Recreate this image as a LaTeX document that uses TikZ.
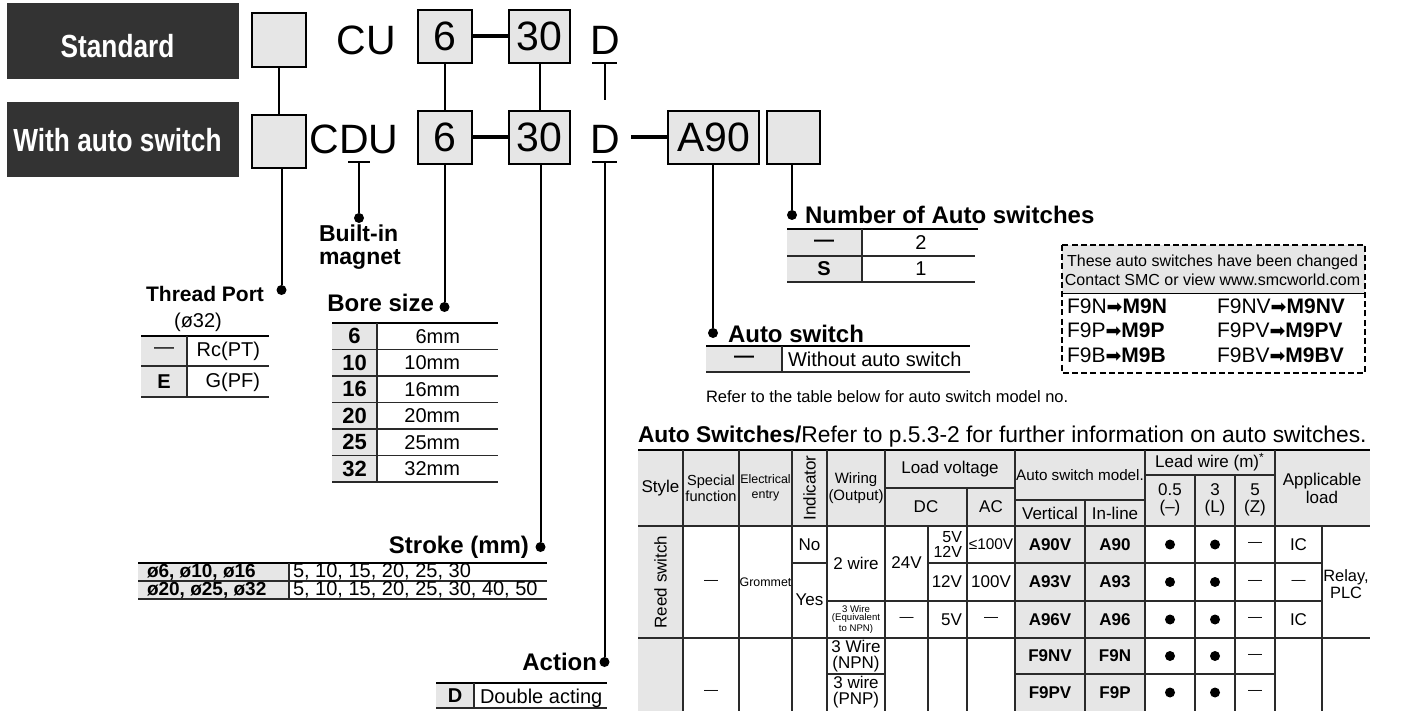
\documentclass[tikz,border=0pt]{standalone}
\usepackage{fontspec}
\setmainfont{Liberation Sans}
\newfontfamily\condf[FakeStretch=0.82]{Liberation Sans}
\newfontfamily\symf{DejaVu Sans}
\definecolor{cellgray}{HTML}{E6E6E6}
\definecolor{darkbox}{HTML}{333333}
\definecolor{rulec}{HTML}{2A2A2A}
\newcommand{\fsz}[2]{\fontsize{#1}{#2}\selectfont}
\begin{document}
\begin{tikzpicture}[x=0.5pt,y=-0.5pt,
 every node/.style={inner sep=0pt,outer sep=0pt},
 gbox/.style={draw=black,line width=1pt,fill=cellgray},
 conn/.style={line width=1pt,draw=black},
 hbar/.style={line width=2pt,draw=black},
 jdot/.style={circle,fill=black,minimum size=5pt},
 ttl/.style={font=\bfseries\fsz{12}{13}},
 big/.style={font=\fsz{20.5}{21}},
 cell/.style={font=\fsz{10}{11}},
 bcell/.style={font=\bfseries\fsz{10}{11}},
 rthick/.style={line width=1.1pt,draw=black},
 rthin/.style={line width=0.55pt,draw=rulec},
 hd/.style={font=\fsz{8.5}{9},align=center},
 bd/.style={font=\fsz{8.5}{9}},
 bdb/.style={font=\bfseries\fsz{8.5}{9}},
 bul/.style={circle,fill=black,minimum size=5pt},
 dsh/.style={font=\fsz{7}{8}},
 chg/.style={font=\fsz{10.5}{11},anchor=base west},
]
\useasboundingbox (0,0) rectangle (1407,711);

% ---------- label boxes
\node[fill=darkbox,minimum width=116pt,minimum height=38pt,anchor=north west] (stdbox) at (7,3) {};
\node[fill=darkbox,minimum width=116pt,minimum height=37.5pt,anchor=north west] (autobox) at (7,102) {};
\node[font=\condf\bfseries\fsz{16}{16},text=white,anchor=base] (stdtxt) at (117.5,58) {Standard};
\node[font=\condf\bfseries\fsz{16}{16},text=white,anchor=base] (autotxt) at (117.5,152) {With auto switch};

% ---------- model code row
\node[gbox,minimum width=27pt,minimum height=27pt,anchor=north west] (b1) at (252,13) {};
\node[gbox,minimum width=27pt,minimum height=26.5pt,anchor=north west] (b2) at (252,115) {};
\node[big,anchor=base] (cu) at (366.5,55) {CU};
\node[big,anchor=base] (cdu) at (354,154) {CDU};
\node[gbox,big,minimum width=27pt,minimum height=26.5pt,anchor=north west,text depth=-1pt] (s6a) at (418,10) {6};
\node[gbox,big,minimum width=27pt,minimum height=26.5pt,anchor=north west,text depth=-1pt] (s6b) at (418,111) {6};
\node[gbox,big,minimum width=30.5pt,minimum height=26.5pt,anchor=north west,text depth=-1pt] (s30a) at (509,10) {30};
\node[gbox,big,minimum width=30.5pt,minimum height=26.5pt,anchor=north west,text depth=-1pt] (s30b) at (509,111) {30};
\node[big,anchor=base] (da) at (605,55) {D};
\node[big,anchor=base] (db) at (605,154) {D};
\node[gbox,big,minimum width=45.5pt,minimum height=26.5pt,anchor=north west,text depth=-1pt] (a90) at (668,111) {A90};
\node[gbox,minimum width=26.5pt,minimum height=26.5pt,anchor=north west] (nb) at (767,111) {};

% T marks under D letters
\coordinate (dal) at (592,63); \coordinate (dar) at (617,63);
\coordinate (dau) at (604.5,63); \coordinate (dae) at (604.5,100);
\coordinate (dbl) at (592,162); \coordinate (dbr) at (617,162);
\coordinate (dbu) at (604.5,162);
\coordinate (cdl) at (348,162); \coordinate (cdr) at (370,162);
\coordinate (cdd) at (359,162);
\draw[conn] (dal) -- (dar);
\draw[conn] (dau) -- (dae);
\draw[conn] (dbl) -- (dbr);
\draw[conn] (cdl) -- (cdr);

% connectors
\draw[conn] (b1.south) -- (b2.north);
\draw[conn] (s6a.south) -- (s6b.north);
\draw[conn] (s30a.south) -- (s30b.north);
\draw[hbar] (s6a.east) -- (s30a.west);
\draw[hbar] (s6b.east) -- (s30b.west);
\coordinate (dbar) at (631,137.5);
\draw[hbar] (dbar) -- (dbar -| a90.west);

% dots
\node[jdot] (tpdot) at (281.5,290) {};
\node[jdot] (magdot) at (359,218) {};
\node[jdot] (bsdot) at (444.5,307) {};
\node[jdot] (stdot) at (540.5,547) {};
\node[jdot] (acdot) at (604.5,662) {};
\node[jdot] (asdot) at (713,333) {};
\node[jdot] (nadot) at (792,215) {};
\draw[conn] (tpdot |- b2.south) -- (tpdot);
\draw[conn] (cdd) -- (magdot);
\draw[conn] (bsdot |- s6b.south) -- (bsdot);
\draw[conn] (stdot |- s30b.south) -- (stdot);
\draw[conn] (dbu) -- (acdot);
\draw[conn] (asdot |- a90.south) -- (asdot);
\draw[conn] (nadot |- nb.south) -- (nadot);

% ---------- titles
\node[font=\bfseries\fsz{11.5}{12},anchor=base west] (magt1) at (319,242) {Built-in};
\node[font=\bfseries\fsz{11.5}{12},anchor=base west] (magt2) at (319,264) {magnet};
\node[font=\bfseries\fsz{10.5}{11},anchor=base east] (tpt) at (264,301) {Thread Port};
\node[cell,anchor=base] (tpsub) at (198,327) {(ø32)};
\node[ttl,anchor=base east] (bst) at (434,311) {Bore size};
\node[ttl,anchor=base west] (nat) at (805,224) {Number of Auto switches};
\node[ttl,anchor=base west] (ast) at (728,342) {Auto switch};
\node[ttl,anchor=base east] (stt) at (529,553) {Stroke (mm)};
\node[ttl,anchor=base east] (act) at (597,670) {Action};

% ---------- Thread port table
\fill[cellgray] (141,336) rectangle (187,397);
\draw[rthick] (141,336) -- (269,336);
\draw[rthin] (141,366) -- (269,366) (141,397) -- (269,397) (187,336) -- (187,397);
\node[cell] (tp1a) at (164,351) {—};
\node[cell,anchor=east] (tp1b) at (260,351) {Rc(PT)};
\node[bcell] (tp2a) at (164,382) {E};
\node[cell,anchor=east] (tp2b) at (260,382) {G(PF)};

% ---------- Bore size table
\fill[cellgray] (332,323) rectangle (377,482);
\draw[rthick] (332,323) -- (498,323);
\draw[rthin] (377,323) -- (377,482);
\foreach \n [count=\i] in {6,10,16,20,25,32} {
  \pgfmathsetmacro{\yc}{323+26.5*\i-13.25}
  \pgfmathsetmacro{\yl}{323+26.5*\i}
  \node[font=\bfseries\fsz{11}{12}] (bn\i) at (354.5,\yc) {\n};
  \node[cell,anchor=east] (bv\i) at (460,\yc) {\n mm};
  \draw[rthin] (332,\yl) -- (498,\yl);
}

% ---------- Number of auto switches table
\fill[cellgray] (787,229) rectangle (862,282);
\draw[rthick] (787,229) -- (978,229);
\draw[rthin] (787,256) -- (975,256) (787,282) -- (975,282) (862,229) -- (862,282);
\node[bcell] (na1a) at (824,243) {—};
\node[cell] (na1b) at (921,243) {2};
\node[bcell] (na2a) at (824,269) {S};
\node[cell] (na2b) at (921,269) {1};

% ---------- Changed switches box
\fill[cellgray] (1062,245) rectangle (1365,293);
\draw[line width=0.5pt] (1062,293) -- (1365,293);
\draw[line width=0.9pt,dash pattern=on 3pt off 1.6pt] (1062,245) rectangle (1365,373);
\node[font=\fsz{8}{9}] (ch1) at (1212.5,262) {These auto switches have been changed};
\node[font=\fsz{8}{9}] (ch2) at (1212.5,280) {Contact SMC or view www.smcworld.com};
\node[chg] (cr1a) at (1067,313) {F9N{\symf\fsz{9.5}{10}➡}\textbf{M9N}};
\node[chg] (cr2a) at (1067,337) {F9P{\symf\fsz{9.5}{10}➡}\textbf{M9P}};
\node[chg] (cr3a) at (1067,362) {F9B{\symf\fsz{9.5}{10}➡}\textbf{M9B}};
\node[chg] (cr1b) at (1217,313) {F9NV{\symf\fsz{9.5}{10}➡}\textbf{M9NV}};
\node[chg] (cr2b) at (1217,337) {F9PV{\symf\fsz{9.5}{10}➡}\textbf{M9PV}};
\node[chg] (cr3b) at (1217,362) {F9BV{\symf\fsz{9.5}{10}➡}\textbf{M9BV}};

% ---------- Auto switch table
\fill[cellgray] (706,346) rectangle (782,372);
\draw[rthick] (706,346) -- (970,346);
\draw[rthin] (706,372) -- (970,372) (782,346) -- (782,372);
\node[bcell] (as1a) at (744,359) {—};
\node[cell,anchor=west] (as1b) at (788,359) {Without auto switch};
\node[font=\fsz{8.25}{9},anchor=base west] (note) at (706,402) {Refer to the table below for auto switch model no.};

% ---------- Stroke table
\fill[cellgray] (138,563) rectangle (289,599);
\draw[rthick] (138,563) -- (547,563);
\draw[rthin] (138,581) -- (547,581) (138,599) -- (547,599) (289,563) -- (289,599);
\node[font=\bfseries\fsz{9.5}{10},anchor=base west] (st1a) at (147,577.5) {ø6, ø10, ø16};
\node[cell,anchor=base west] (st1b) at (293,577.5) {5, 10, 15, 20, 25, 30};
\node[font=\bfseries\fsz{9.5}{10},anchor=base west] (st2a) at (147,595.5) {ø20, ø25, ø32};
\node[cell,anchor=base west] (st2b) at (293,595.5) {5, 10, 15, 20, 25, 30, 40, 50};

% ---------- Action table
\fill[cellgray] (436,683) rectangle (474,708);
\draw[rthick] (436,683) -- (607,683);
\draw[rthin] (436,708) -- (607,708) (474,683) -- (474,708);
\node[bcell] (ac1a) at (455,696) {D};
\node[cell,anchor=base west] (ac1b) at (480,703) {Double acting};

% ---------- Auto switches table
\node[font=\fsz{11.4}{12},anchor=base west] (astitle) at (638,442) {\textbf{Auto Switches/}Refer to p.5.3-2 for further information on auto switches.};
\fill[cellgray] (638,450) rectangle (1370,526);
\fill[cellgray] (638,526) rectangle (683,711);
\fill[cellgray] (1015,526) rectangle (1145,711);
\draw[rthick] (638,450) -- (1370,450);
\draw[rthin] (638,526) -- (1370,526);
\draw[rthin] (885,488) -- (1015,488) (1015,500) -- (1145,500) (1145,475) -- (1275,475);
\foreach \xx in {683,739,792,827,885,1015,1145,1275} {\draw[rthin] (\xx,450) -- (\xx,711);}
\draw[rthin] (967,488) -- (967,711);
\draw[rthin] (1085,500) -- (1085,711);
\draw[rthin] (1195,475) -- (1195,711) (1235,475) -- (1235,711);
\draw[rthin] (928,526) -- (928,711) (1322,526) -- (1322,711);
\draw[rthin] (792,563) -- (827,563) (928,563) -- (1322,563);
\draw[rthin] (827,601) -- (1322,601);
\draw[rthin] (638,638) -- (1370,638);
\draw[rthin] (827,674) -- (885,674) (1015,674) -- (1275,674);

% header texts
\node[hd] (hstyle) at (660.5,488) {Style};
\node[font=\fsz{7.3}{8},align=center] (hspec) at (711,488) {Special\\function};
\node[font=\fsz{6.2}{7.5},align=center] (helec) at (765.5,488) {Electrical\\entry};
\node[hd,rotate=90] (hind) at (809.5,488) {Indicator};
\node[font=\fsz{7.5}{8.5},align=center] (hwir) at (856,488) {Wiring\\(Output)};
\node[hd] (hload) at (950,469) {Load voltage};
\node[hd] (hdc) at (926,507) {DC};
\node[hd] (hac) at (991,507) {AC};
\node[font=\fsz{7.6}{8}] (hmod) at (1080,475) {Auto switch model.};
\node[hd] (hver) at (1050,513) {Vertical};
\node[hd] (hinl) at (1115,513) {In-line};
\node[hd] (hlead) at (1210,462) {Lead wire (m)\textsuperscript{*}};
\node[font=\fsz{8.5}{8.5},align=center] (hl05) at (1170,500) {0.5\\(–)};
\node[font=\fsz{8.5}{8.5},align=center] (hl3) at (1215,500) {3\\(L)};
\node[font=\fsz{8.5}{8.5},align=center] (hl5) at (1255,500) {5\\(Z)};
\node[font=\fsz{8.5}{9},align=center] (happ) at (1322,488) {Applicable\\load};

% body texts
\node[bd,rotate=90] (reed) at (660.5,582) {Reed switch};
\node[dsh] (sp1) at (711,582) {—};
\node[dsh] (sp2) at (711,692.5) {—};
\node[font=\fsz{6.2}{7}] (grom) at (765.5,582) {Grommet};
\node[bd] (ino) at (809.5,544.5) {No};
\node[bd] (iyes) at (809.5,600) {Yes};
\node[bd] (w2) at (856,563) {2 wire};
\node[font=\fsz{4.8}{4.3},align=center] (w3e) at (856,619.5) {3 Wire\\(Equivalent\\to NPN)};
\node[font=\fsz{8.5}{8},align=center] (w3n) at (856,656) {3 Wire\\(NPN)};
\node[font=\fsz{8.5}{8},align=center] (w3p) at (856,692.5) {3 wire\\(PNP)};
\node[bd] (v24) at (906.5,563) {24V};
\node[dsh] (v24d) at (906.5,619.5) {—};
\node[font=\fsz{8}{7.5},align=right,anchor=east] (v512) at (962,544.5) {5V\\12V};
\node[bd,anchor=east] (v12) at (962,582) {12V};
\node[bd,anchor=east] (v5) at (962,619.5) {5V};
\node[font=\fsz{7.7}{8}] (ac1) at (991,544.5) {≤100V};
\node[bd] (ac2) at (991,582) {100V};
\node[dsh] (ac3) at (991,619.5) {—};
\foreach \v/\l/\y [count=\i] in {A90V/A90/544.5,A93V/A93/582,A96V/A96/619.5,F9NV/F9N/656,F9PV/F9P/692.5} {
  \node[bdb] (mv\i) at (1050,\y) {\v};
  \node[bdb] (ml\i) at (1115,\y) {\l};
  \node[bul] (l05\i) at (1170,\y) {};
  \node[bul] (l3\i) at (1215,\y) {};
  \node[dsh] (l5\i) at (1255,\y) {—};
}
\node[bd] (ic1) at (1298.5,544.5) {IC};
\node[dsh] (ic2) at (1298.5,582) {—};
\node[bd] (ic3) at (1298.5,619.5) {IC};
\node[font=\fsz{8.2}{6.5},align=center] (relay) at (1346,584) {Relay,\\PLC};
\end{tikzpicture}
\end{document}
